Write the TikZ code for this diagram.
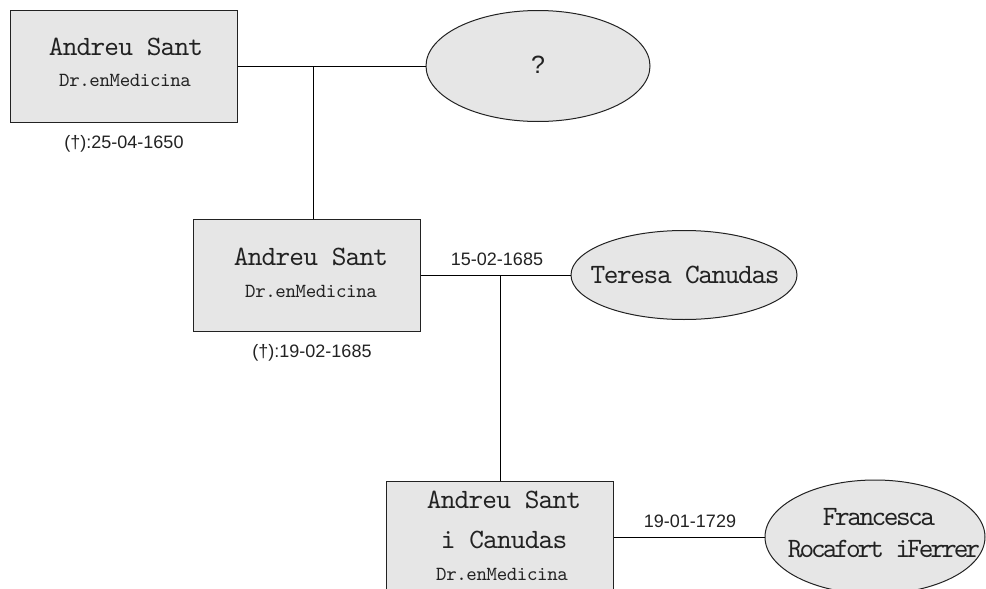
\documentclass[tikz,border=0pt]{standalone}
\usepackage{fontspec}
\usetikzlibrary{shapes.geometric}
\newfontfamily\datefont{Liberation Sans}
\newfontfamily\namefont[LetterSpace=-3]{lmmono10-regular.otf}
\newfontfamily\teresafont[LetterSpace=-5]{lmmono10-regular.otf}
\newfontfamily\tightfont[LetterSpace=-9]{lmmono10-regular.otf}
\newfontfamily\tighterfont[LetterSpace=-11]{lmmono10-regular.otf}
\newfontfamily\titlefont[LetterSpace=-2]{lmmono10-regular.otf}
\definecolor{boxfill}{RGB}{230,230,230}
\definecolor{ink}{RGB}{34,34,34}
\tikzset{
  personbox/.style={draw=ink, line width=1pt, fill=boxfill, rectangle, minimum width=227pt, minimum height=112pt, inner sep=0pt},
  spousebox/.style={draw=ink, line width=1pt, fill=boxfill, ellipse, inner sep=0pt},
  nametext/.style={anchor=base, inner sep=0pt, text=ink, font=\namefont\fontsize{28}{32}\selectfont},
  teresatext/.style={anchor=base, inner sep=0pt, text=ink, font=\teresafont\fontsize{28}{32}\selectfont},
  tighttext/.style={anchor=base, inner sep=0pt, text=ink, font=\tightfont\fontsize{28}{32}\selectfont},
  tightertext/.style={anchor=base, inner sep=0pt, text=ink, font=\tighterfont\fontsize{28}{32}\selectfont},
  titletext/.style={anchor=base, inner sep=0pt, text=ink, font=\titlefont\fontsize{20}{24}\selectfont},
  datetext/.style={anchor=base, inner sep=0pt, text=ink, font=\datefont\fontsize{18}{22}\selectfont},
  linkline/.style={draw=black, line width=1pt}
}
\begin{document}
\begin{tikzpicture}[x=1pt,y=-1pt]
\useasboundingbox (0,0) rectangle (986,589);
\clip (0,0) rectangle (986,589);
% shapes
\node[personbox] (b1) at (123.5,66) {};
\node[spousebox, minimum width=224pt, minimum height=111pt] (e1) at (538,66) {};
\node[personbox] (b2) at (306.5,275) {};
\node[spousebox, minimum width=226pt, minimum height=89pt] (e2) at (684,275) {};
\node[personbox] (b3) at (500,537) {};
\node[spousebox, minimum width=220pt, minimum height=114pt] (e3) at (875,537) {};
% connectors
\coordinate (m1) at (313,66);
\coordinate (m2) at (500,275);
\draw[linkline] (b1.east) -- (e1.west);
\draw[linkline] (m1) -- (m1 |- b2.north);
\draw[linkline] (b2.east) -- (e2.west);
\draw[linkline] (m2) -- (b3.north);
\draw[linkline] (b3.east) -- (e3.west);
% texts
\node[nametext] (n1a) at (126,55) {Andreu Sant};
\node[titletext] (n1b) at (125,86) {Dr.enMedicina};
\node[datetext] (d1) at (124,148) {(†):25-04-1650};
\node[datetext, font=\datefont\fontsize{25}{28}\selectfont] (q1) at (538,73) {?};
\node[nametext] (n2a) at (311,265) {Andreu Sant};
\node[titletext] (n2b) at (311,297) {Dr.enMedicina};
\node[datetext] (d2) at (312,357) {(†):19-02-1685};
\node[datetext] (m2d) at (497,265) {15-02-1685};
\node[teresatext] (t2) at (685,283) {Teresa Canudas};
\node[nametext] (n3a) at (504,508) {Andreu Sant};
\node[nametext] (n3b) at (504,548) {i Canudas};
\node[titletext] (n3c) at (502,580) {Dr.enMedicina};
\node[datetext] (m3d) at (690,527) {19-01-1729};
\node[tighttext] (f3a) at (879,525) {Francesca};
\node[tightertext] (f3b) at (884,557) {Rocafort iFerrer};
\end{tikzpicture}
\end{document}
